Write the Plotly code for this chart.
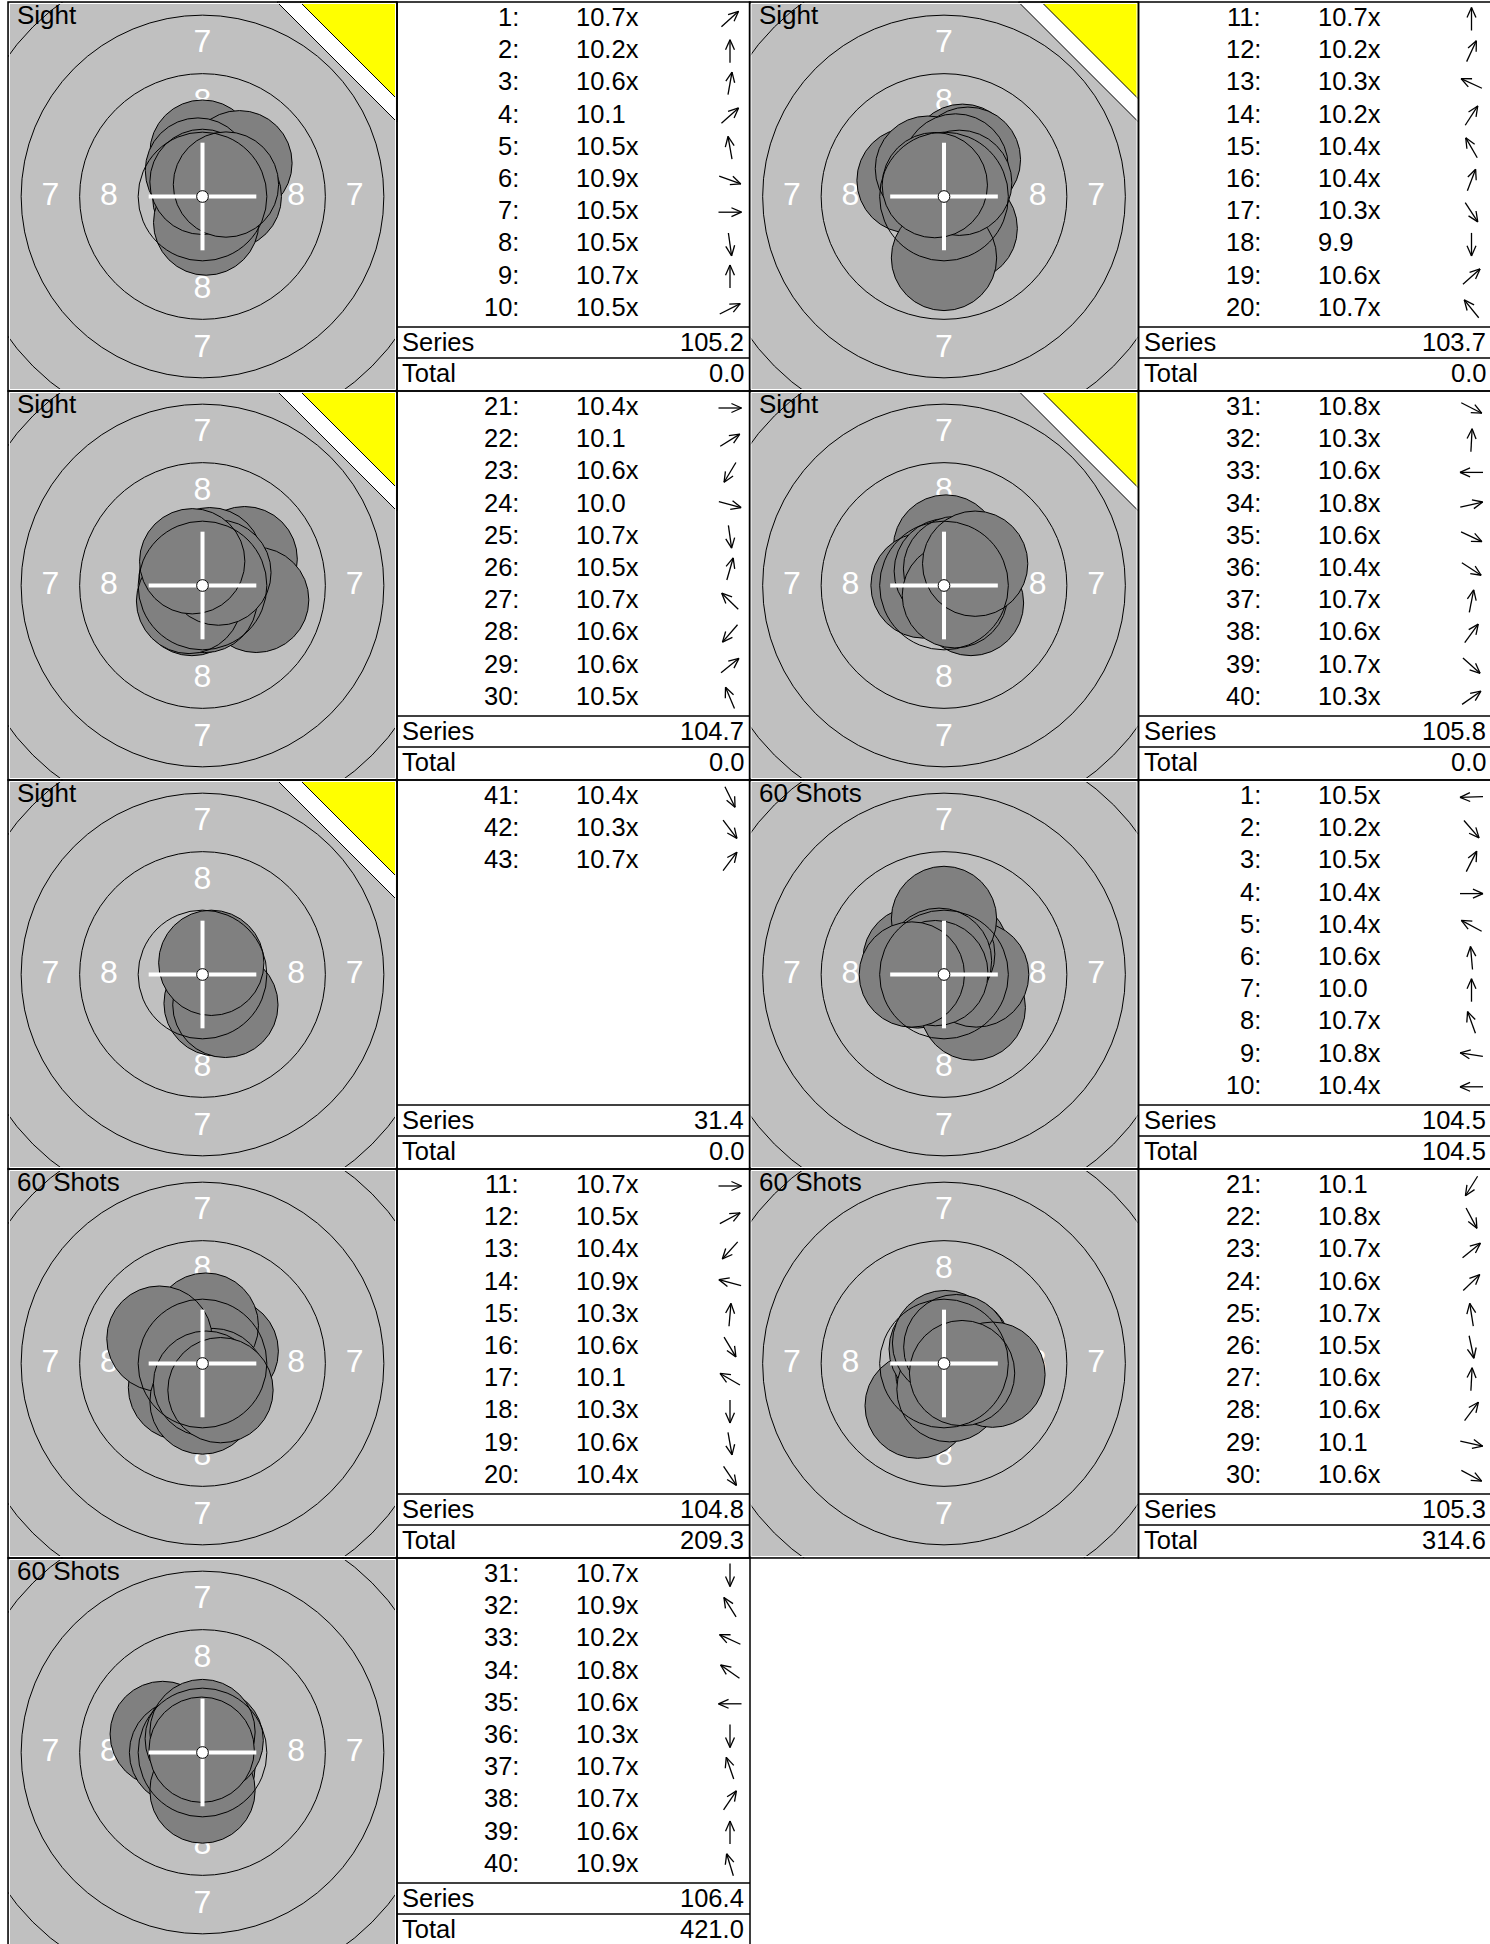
import math
import plotly.graph_objects as go

# ---------------- data ----------------
panel_titles = ["Sight", "Sight", "Sight", "Sight", "Sight",
                "60 Shots", "60 Shots", "60 Shots", "60 Shots"]
first_shot_no = [1, 11, 21, 31, 41, 1, 11, 21, 31]

scores_p1 = ["10.7x", "10.2x", "10.6x", "10.1", "10.5x", "10.9x", "10.5x", "10.5x", "10.7x", "10.5x"]
scores_p2 = ["10.7x", "10.2x", "10.3x", "10.2x", "10.4x", "10.4x", "10.3x", "9.9", "10.6x", "10.7x"]
scores_p3 = ["10.4x", "10.1", "10.6x", "10.0", "10.7x", "10.5x", "10.7x", "10.6x", "10.6x", "10.5x"]
scores_p4 = ["10.8x", "10.3x", "10.6x", "10.8x", "10.6x", "10.4x", "10.7x", "10.6x", "10.7x", "10.3x"]
scores_p5 = ["10.4x", "10.3x", "10.7x"]
scores_p6 = ["10.5x", "10.2x", "10.5x", "10.4x", "10.4x", "10.6x", "10.0", "10.7x", "10.8x", "10.4x"]
scores_p7 = ["10.7x", "10.5x", "10.4x", "10.9x", "10.3x", "10.6x", "10.1", "10.3x", "10.6x", "10.4x"]
scores_p8 = ["10.1", "10.8x", "10.7x", "10.6x", "10.7x", "10.5x", "10.6x", "10.6x", "10.1", "10.6x"]
scores_p9 = ["10.7x", "10.9x", "10.2x", "10.8x", "10.6x", "10.3x", "10.7x", "10.7x", "10.6x", "10.9x"]

# direction of each shot (degrees, counter-clockwise from "right")
angles_p1 = [42, 90, 80, 42, 100, -20, 0, -82, 90, 27]
angles_p2 = [90, 65, 155, 57, 120, 69, -57, -90, 42, 129]
angles_p3 = [0, 32, 239, -15, -82, 74, 136, 229, 39, 113]
angles_p4 = [-27, 87, 180, 13, -25, -33, 79, 54, -42, 35]
angles_p5 = [-64, -53, 53]
angles_p6 = [182, -49, 63, 0, 152, 95, 90, 110, 171, 180]
angles_p7 = [0, 28, 228, 165, 85, -59, 150, -90, -80, -56]
angles_p8 = [238, -62, 39, 44, 99, -78, 87, 53, -13, -28]
angles_p9 = [-90, 122, 155, 145, 180, -90, 109, 56, 90, 107]

series_sums = ["105.2", "103.7", "104.7", "105.8", "31.4", "104.5", "104.8", "105.3", "106.4"]
running_totals = ["0.0", "0.0", "0.0", "0.0", "0.0", "104.5", "209.3", "314.6", "421.0"]

# 10 m air-rifle target geometry (mm)
ring_names = ["9", "8", "7", "6"]
ring_radii_mm = [2.75, 5.25, 7.75, 10.25]
ten_dot_radius_mm = 0.25
pellet_radius_mm = 2.25
ring_label_texts = ["8", "7"]
ring_label_radii_mm = [4.0, 6.5]

all_scores = [scores_p1, scores_p2, scores_p3, scores_p4, scores_p5,
              scores_p6, scores_p7, scores_p8, scores_p9]
all_angles = [angles_p1, angles_p2, angles_p3, angles_p4, angles_p5,
              angles_p6, angles_p7, angles_p8, angles_p9]

# ---------------- layout constants (pixels) ----------------
FIG_W, FIG_H = 1490, 1944
S = 23.4                 # px per mm on the targets
TW, TH, TBW = 389, 389, 353
PITCH_X, PITCH_Y = 741.5, 389
X0, Y0 = 8, 2
GRAY = "#C0C0C0"
SHOT = "#808080"
FONT = "Liberation Sans, Arial, Helvetica, sans-serif"
TXT = 25.5

fig = go.Figure()
layout = dict(width=FIG_W, height=FIG_H, autosize=False,
              margin=dict(l=0, r=0, t=0, b=0, pad=0),
              paper_bgcolor="white", plot_bgcolor="rgba(0,0,0,0)",
              showlegend=False)
shapes_below, shapes_shots, shapes_rings, shapes_corner, shapes_top, shapes_frame = [], [], [], [], [], []
annotations = []

CANVAS = ("x10", "y10")


def dist_mm(score_text):
    v = float(score_text.rstrip("x"))
    return (10.95 - v) * 2.5


arrow_x, arrow_y = [], []

for k in range(9):
    r, c = divmod(k, 2)
    px0 = X0 + c * PITCH_X
    py0 = Y0 + r * PITCH_Y
    py1 = min(py0 + TH, FIG_H)
    cx_px = px0 + TW / 2
    cy_px = py0 + TH / 2
    xa = "x" if k == 0 else f"x{k+1}"
    ya = "y" if k == 0 else f"y{k+1}"
    xkey = "xaxis" if k == 0 else f"xaxis{k+1}"
    ykey = "yaxis" if k == 0 else f"yaxis{k+1}"
    layout[xkey] = dict(domain=[px0 / FIG_W, (px0 + TW) / FIG_W],
                        range=[-TW / 2 / S, TW / 2 / S], visible=False,
                        fixedrange=True, anchor=ya, showgrid=False, zeroline=False)
    layout[ykey] = dict(domain=[1 - py1 / FIG_H, 1 - py0 / FIG_H],
                        range=[-(py1 - cy_px) / S, (cy_px - py0) / S], visible=False,
                        fixedrange=True, anchor=xa, showgrid=False, zeroline=False)

    # background (paper-referenced so it sits beneath every subplot)
    shapes_below.append(dict(type="rect", xref="paper", yref="paper",
                             x0=px0 / FIG_W, x1=(px0 + TW) / FIG_W,
                             y0=1 - py1 / FIG_H, y1=1 - py0 / FIG_H,
                             fillcolor=GRAY, line=dict(width=0), layer="below"))
    if panel_titles[k] == "Sight":
        shapes_corner.append(dict(type="path", xref=CANVAS[0], yref=CANVAS[1],
                                  path=f"M {px0 + TW - 120},{py0} L {px0 + TW},{py0} L {px0 + TW},{py0 + 120} Z",
                                  fillcolor="white", line=dict(color="black", width=1), layer="above"))
        shapes_corner.append(dict(type="path", xref=CANVAS[0], yref=CANVAS[1],
                                  path=f"M {px0 + TW - 97},{py0} L {px0 + TW},{py0} L {px0 + TW},{py0 + 97} Z",
                                  fillcolor="#FFFF00", line=dict(color="black", width=1), layer="above"))

    # ring numbers (under the shots)
    lx, ly, lt = [], [], []
    for txt, rad in zip(ring_label_texts, ring_label_radii_mm):
        for ux, uy in [(0, 1), (0, -1), (-1, 0), (1, 0)]:
            lx.append(ux * rad)
            ly.append(uy * rad)
            lt.append(txt)
    fig.add_trace(go.Scatter(x=lx, y=ly, text=lt, mode="text", xaxis=xa, yaxis=ya,
                             textposition="middle center", hoverinfo="skip",
                             textfont=dict(color="white", size=32, family=FONT)))

    # shots, drawn one after another (each covers earlier outlines)
    for sc, ang in zip(all_scores[k], all_angles[k]):
        d = dist_mm(sc)
        sx = d * math.cos(math.radians(ang))
        sy = d * math.sin(math.radians(ang))
        shapes_shots.append(dict(type="circle", xref=xa, yref=ya,
                                 x0=sx - pellet_radius_mm, x1=sx + pellet_radius_mm,
                                 y0=sy - pellet_radius_mm, y1=sy + pellet_radius_mm, layer="above",
                                 fillcolor=SHOT, line=dict(color="black", width=1)))

    # rings
    for rad in ring_radii_mm:
        shapes_rings.append(dict(type="circle", xref=xa, yref=ya, x0=-rad, x1=rad, y0=-rad, y1=rad,
                                 fillcolor="rgba(0,0,0,0)", line=dict(color="black", width=1), layer="above"))

    # crosshair + ten dot
    ch = 2.3
    shapes_top.append(dict(type="line", xref=xa, yref=ya, x0=-ch, x1=ch, y0=0, y1=0,
                           line=dict(color="white", width=4), layer="above"))
    shapes_top.append(dict(type="line", xref=xa, yref=ya, x0=0, x1=0, y0=-ch, y1=ch,
                           line=dict(color="white", width=4), layer="above"))
    shapes_top.append(dict(type="circle", xref=xa, yref=ya,
                           x0=-ten_dot_radius_mm, x1=ten_dot_radius_mm,
                           y0=-ten_dot_radius_mm, y1=ten_dot_radius_mm,
                           fillcolor="white", line=dict(color="black", width=1), layer="above"))

    # target frame
    shapes_frame.append(dict(type="rect", xref=CANVAS[0], yref=CANVAS[1],
                             x0=px0 + 1.5, x1=px0 + TW - 1.5, y0=py0 + 1.5, y1=py0 + TH - 1.5,
                             fillcolor="rgba(0,0,0,0)", line=dict(color="white", width=1), layer="above"))
    shapes_frame.append(dict(type="rect", xref=CANVAS[0], yref=CANVAS[1],
                             x0=px0, x1=px0 + TW, y0=py0, y1=py0 + TH,
                             fillcolor="rgba(0,0,0,0)", line=dict(color="black", width=1.5), layer="above"))

    annotations.append(dict(xref=CANVAS[0], yref=CANVAS[1], x=px0 + 7, y=py0 + 13,
                            text=panel_titles[k], showarrow=False, xanchor="left", yanchor="middle",
                            font=dict(family=FONT, size=26, color="black")))

    # ---------- table ----------
    tx0 = px0 + TW
    shapes_frame.append(dict(type="rect", xref=CANVAS[0], yref=CANVAS[1],
                             x0=tx0, x1=tx0 + TBW, y0=py0, y1=py0 + TH,
                             fillcolor="rgba(0,0,0,0)", line=dict(color="black", width=1.5), layer="above"))
    for yy in (325, 356):
        shapes_frame.append(dict(type="line", xref=CANVAS[0], yref=CANVAS[1],
                                 x0=tx0, x1=tx0 + TBW, y0=py0 + yy, y1=py0 + yy,
                                 line=dict(color="black", width=1.5), layer="above"))
    for i, (sc, ang) in enumerate(zip(all_scores[k], all_angles[k])):
        ry = py0 + 15 + 32.2 * i
        annotations.append(dict(xref=CANVAS[0], yref=CANVAS[1], x=tx0 + 124, y=ry,
                                text=f"{first_shot_no[k] + i}:", showarrow=False,
                                xanchor="right", yanchor="middle",
                                font=dict(family=FONT, size=TXT, color="black")))
        annotations.append(dict(xref=CANVAS[0], yref=CANVAS[1], x=tx0 + 177, y=ry,
                                text=sc, showarrow=False, xanchor="left", yanchor="middle",
                                font=dict(family=FONT, size=TXT, color="black")))
        # arrow
        ux, uy = math.cos(math.radians(ang)), -math.sin(math.radians(ang))
        acx, acy = tx0 + 333, ry + 2
        L, A, HA = 23, 11, math.radians(24)
        tipx, tipy = acx + ux * L / 2, acy + uy * L / 2
        arrow_x += [acx - ux * L / 2, tipx, None]
        arrow_y += [acy - uy * L / 2, tipy, None]
        for sgn in (1, -1):
            ca, sa = math.cos(sgn * HA), math.sin(sgn * HA)
            bx = ux * ca - uy * sa
            by = ux * sa + uy * ca
            arrow_x += [tipx, tipx - bx * A, None]
            arrow_y += [tipy, tipy - by * A, None]
    for label, val, yy in (("Series", series_sums[k], 339.5), ("Total", running_totals[k], 370.5)):
        annotations.append(dict(xref=CANVAS[0], yref=CANVAS[1], x=tx0 + 3, y=py0 + yy,
                                text=label, showarrow=False, xanchor="left", yanchor="middle",
                                font=dict(family=FONT, size=TXT, color="black")))
        annotations.append(dict(xref=CANVAS[0], yref=CANVAS[1], x=tx0 + 349, y=py0 + yy,
                                text=val, showarrow=False, xanchor="right", yanchor="middle",
                                font=dict(family=FONT, size=TXT, color="black")))

# canvas axis in pixel units
layout["xaxis10"] = dict(domain=[0, 1], range=[0, FIG_W], visible=False, fixedrange=True,
                         anchor="y10", showgrid=False, zeroline=False)
layout["yaxis10"] = dict(domain=[0, 1], range=[FIG_H, 0], visible=False, fixedrange=True,
                         anchor="x10", showgrid=False, zeroline=False)
fig.add_trace(go.Scatter(x=arrow_x, y=arrow_y, mode="lines", xaxis="x10", yaxis="y10",
                         line=dict(color="black", width=1.3), hoverinfo="skip", cliponaxis=False))

layout["shapes"] = (shapes_below + shapes_shots + shapes_rings + shapes_corner +
                    shapes_top + shapes_frame)
layout["annotations"] = annotations
fig.update_layout(**layout)

fig.write_html("out.html", config={"displayModeBar": False},
               post_script="document.body.style.margin='0';document.body.style.overflow='hidden';")
